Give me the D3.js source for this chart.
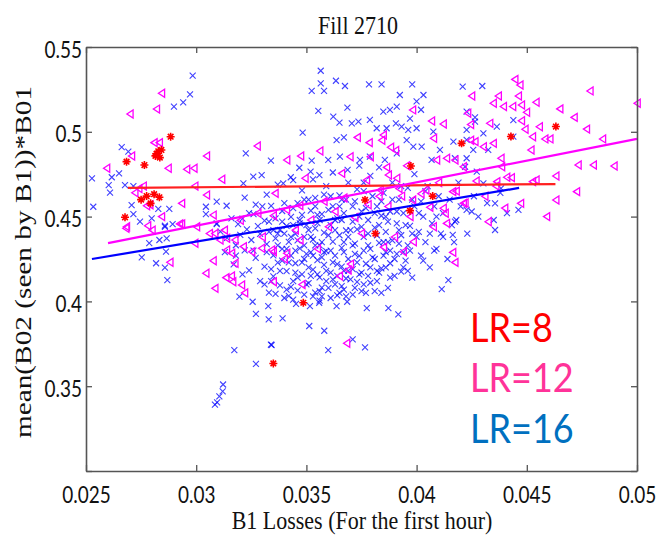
<!DOCTYPE html>
<html>
<head>
<meta charset="utf-8">
<script src="https://cdn.jsdelivr.net/npm/d3@7"></script>
<style>
  html, body { margin: 0; padding: 0; background: #fff; }
  svg { display: block; }
</style>
</head>
<body>
<svg id="chart" width="657" height="536"></svg>
<script>
// Fill 2710 — scatter of B1 losses vs mean(B02)*B01 for three LR settings

const xTicks = [0.025, 0.03, 0.035, 0.04, 0.045, 0.05];
const yTicks = [0.3, 0.35, 0.4, 0.45, 0.5, 0.55];
const yTickLabels = ['', '0.35', '0.4', '0.45', '0.5', '0.55'];

const seriesNames = ['LR=8', 'LR=12', 'LR=16'];
const seriesColors = ['#ff0000', '#ff3399', '#0070c0'];

// LR=8 (red asterisks)
const lr8 = [
  [.02884,.4971],[.02820,.4870],[.02828,.4885],[.02842,.4893],[.02815,.4858],[.02835,.4848],[.02684,.4824],[.02765,.4804],
  [.02775,.4621],[.02809,.4632],[.02833,.4614],[.02793,.4578],[.02750,.4600],[.02677,.4496],
  [.03486,.3992],[.03350,.3634],[.03813,.4400],[.04204,.4932],[.03974,.4798],[.03766,.4598],[.04073,.4621],
  [.03970,.4535],[.04428,.4972],[.04632,.5031]
];

// LR=12 (magenta left triangles)
const lr12 = [
  [.02843,.5227],[.02820,.5134],[.02700,.5105],[.02809,.4936],[.02833,.4936],[.02707,.4857],[.03047,.4857],[.03277,.4916],
  [.02594,.4785],[.02873,.4785],[.02957,.4779],[.02990,.4785],[.03116,.4720],[.02994,.4680],[.02760,.4680],[.02740,.4665],
  [.02722,.4641],[.03047,.4627],[.02934,.4578],[.02775,.4564],[.02790,.4570],[.02843,.4500],[.02684,.4440],[.02780,.4446],
  [.02934,.4456],[.03002,.4440],[.03077,.4509],[.03060,.4400],[.03128,.4420],
  [.02681,.4431],[.02800,.4420],[.02925,.4457],[.02994,.4343],[.03085,.4400],[.02881,.4231],[.03044,.4166],[.03077,.4240],
  [.03085,.4077],[.03135,.4140],[.03160,.4150],[.03166,.4116],[.03176,.4225],[.03206,.4097],[.03108,.4362],[.03138,.4372],
  [.03176,.4362],[.03214,.4323],[.03138,.4303],[.03161,.4284],[.03252,.4293],[.03297,.4313],[.03350,.4293],
  [.03683,.3753],[.04164,.4289],[.04174,.4230],[.03689,.4185],[.03471,.4362],[.03940,.4293],[.03985,.4352],[.04136,.4460],
  [.04076,.4440],[.03342,.4303],[.03350,.4116],[.03411,.4284],
  [.03982,.5129],[.04068,.5064],[.04121,.5046],[.04245,.5043],[.03849,.4981],[.03731,.4967],[.03785,.4936],[.03882,.4909],
  [.03842,.4950],[.03905,.4890],[.04077,.4962],[.04245,.4950],[.03411,.4834],[.03474,.4857],[.03561,.4887],[.03698,.4853],
  [.03790,.4853],[.03955,.4800],[.03864,.4790],[.03872,.4745],[.03910,.4726],[.04091,.4834],[.04136,.4844],[.04174,.4834],
  [.04212,.4794],[.03494,.4726],[.03660,.4755],[.03773,.4716],[.03835,.4657],[.03932,.4621],[.03982,.4598],[.04042,.4657],
  [.04164,.4647],[.04121,.4549],[.04212,.4578],[.03358,.4637],
  [.0320,.4478],[.0328,.4520],[.0335,.4505],[.0341,.4540],[.0347,.4565],[.0352,.4480],[.0358,.4590],[.0363,.4530],
  [.0367,.4610],[.0372,.4495],[.0378,.4570],[.0383,.4620],[.0387,.4560],[.0392,.4665],[.0397,.4500],[.0402,.4635],
  [.0406,.4555],[.0410,.4700],[.0413,.4520],[.0418,.4650],[.0422,.4580],[.0427,.4710],[.0431,.4620],[.0436,.4680],
  [.0440,.4550],[.0443,.4730],[.0330,.4380],[.0345,.4420],[.0360,.4440],[.0375,.4400],[.0390,.4380],[.0340,.4250],
  [.0355,.4310],[.0370,.4220],[.0385,.4320],[.0348,.4100],[.0365,.4150],[.0322,.4050],
  [.04446,.5309],[.04469,.5276],[.04250,.5211],[.04371,.5211],[.04462,.5211],[.04348,.5168],[.04394,.5149],[.04436,.5149],
  [.04476,.5158],[.04542,.5174],[.04787,.5241],[.05001,.5168],[.04499,.5115],[.04650,.5135],[.04715,.5085],[.04771,.5016],
  [.04476,.5065],[.04492,.5015],[.04557,.5030],[.04526,.4971],[.04582,.4958],[.04605,.4958],[.04844,.4958],[.04519,.4893],
  [.04383,.4844],[.04386,.4794],[.04733,.4804],[.04802,.4804],[.04896,.4798],[.04632,.4739],[.04726,.4647],[.04632,.4598],
  [.04590,.4500],[.04472,.4578],[.04325,.4470],[.04409,.4732],[.04542,.4716],[.04526,.4706],[.04364,.4706],[.04232,.5109],
  [.04332,.5050],[.04348,.4932],[.04265,.4942],[.04303,.4912]
];

// LR=16 (blue crosses)
const lr16 = [
  [.02984,.5331],[.02972,.5221],[.02941,.5174],[.02899,.5148],[.02662,.4909],[.02692,.4883],[.03225,.4873],[.03339,.4830],
  [.02527,.4726],[.02617,.4732],[.02650,.4755],[.02603,.4686],[.02609,.4641],[.02677,.4686],[.02715,.4680],[.02533,.4558],
  [.02707,.4568],[.02715,.4515],[.02828,.4545],[.02878,.4545],[.02798,.4490],[.02745,.4470],[.02858,.4446],[.02893,.4456],
  [.03044,.4558],[.03044,.4515],[.03093,.4588],[.03138,.4564],[.03093,.4460],[.03259,.4736],[.03297,.4745],[.03214,.4696],
  [.02753,.4260],[.02818,.4225],[.02858,.4199],[.02869,.4126],[.02787,.4343],[.02833,.4362],[.02866,.4372],[.02863,.4293],
  [.02858,.4440],[.03093,.4456],[.03196,.4028],[.03256,.3998],[.03271,.3926],[.03329,.3894],[.03339,.3745],[.03173,.3713],
  [.03271,.3631],[.03122,.3510],[.03120,.3470],[.03105,.3440],[.03095,.3405],[.03085,.3392],[.03327,.3972],
  [.03392,.3900],[.03513,.3855],[.03581,.3827],[.03599,.3713],[.03710,.3776],[.03766,.3729],[.03342,.3743],[.03774,.3960],
  [.03872,.3960],[.03917,.3924],[.04114,.4073],[.04144,.4126],[.03685,.3998],[.03637,.3972],[.03558,.3992],[.03516,.3972],
  [.03453,.3985],
  [.03565,.5360],[.03565,.5286],[.03524,.5241],[.03580,.5241],[.03634,.5301],[.03675,.5270],[.03784,.5280],[.03841,.5280],
  [.03980,.5280],[.04209,.5266],[.03554,.5123],[.03686,.5142],[.03622,.5089],[.03650,.5054],[.03483,.4995],[.03849,.5119],
  [.03879,.5129],[.03910,.5148],[.03924,.5217],[.04031,.5217],[.04000,.5180],[.04020,.5130],[.03970,.5078],
  [.03706,.5050],[.03736,.5060],[.03788,.5070],[.03819,.5021],[.03864,.5021],[.03906,.5050],[.03932,.5030],[.03962,.5011],
  [.04000,.5021],[.04076,.5001],[.03637,.4951],[.03670,.4967],[.03652,.4853],[.03687,.4775],[.03743,.4834],[.03788,.4853],
  [.03856,.4834],[.03910,.4873],[.03955,.4951],[.03985,.4912],[.04023,.4912],[.04106,.4893],[.04068,.4834],[.03468,.4788],
  [.03524,.4830],[.03599,.4834],[.03519,.4765],[.03559,.4745],[.03429,.4732],[.03395,.4696],
  [.04298,.5270],[.04227,.5119],[.04265,.5085],[.04265,.5060],[.04439,.5069],[.04303,.4991],[.04364,.5030],[.04227,.5011],
  [.04167,.4942],[.04227,.4952],[.04257,.4893],[.04174,.4844],[.04325,.4893],[.04439,.4971],[.04383,.4667],[.04356,.4578],
  [.04462,.4539],[.04164,.4392],[.04356,.4421],[.04174,.4470],[.04227,.4539],[.04250,.4530],[.04303,.4696],[.04273,.4765],
  [.04220,.4794],[.04227,.4844],
  [.0311,.4412],[.0314,.4375],[.0316,.4490],[.0318,.4331],[.0319,.4455],[.0313,.4290],[.0317,.4218],[.0320,.4392],
  [.0321,.4488],[.0322,.4301],[.0323,.4425],[.0324,.4183],[.0325,.4362],[.0326,.4515],[.0327,.4257],[.0328,.4444],
  [.0329,.4120],[.0329,.4398],[.0322,.4612],[.0327,.4571],
  [.0331,.4476],[.0331,.4205],[.0332,.4338],[.0333,.4052],[.0333,.4410],[.0334,.4563],[.0335,.4271],[.0335,.4147],
  [.0336,.4490],[.0336,.4372],[.0337,.4228],[.0338,.4095],[.0338,.4421],[.0339,.4310],[.0339,.4533],[.0332,.4630],[.0337,.4688],
  [.0341,.4445],[.0341,.4178],[.0342,.4351],[.0342,.4032],[.0343,.4270],[.0343,.4498],[.0344,.4120],[.0345,.4398],
  [.0345,.4225],[.0346,.4580],[.0346,.4065],[.0347,.4312],[.0347,.4460],[.0348,.4160],[.0348,.4655],[.0349,.4380],
  [.0349,.4250],[.0344,.4715],[.0340,.4020],
  [.0351,.4421],[.0351,.4108],[.0352,.4290],[.0352,.4535],[.0353,.4188],[.0353,.4365],[.0354,.4052],[.0354,.4610],
  [.0355,.4462],[.0355,.4243],[.0356,.4142],[.0356,.4330],[.0357,.4515],[.0357,.4081],[.0358,.4405],[.0358,.4215],
  [.0359,.4680],[.0359,.4296],[.0353,.4720],[.0356,.4005],
  [.0361,.4450],[.0361,.4170],[.0362,.4352],[.0362,.4560],[.0363,.4100],[.0363,.4270],[.0364,.4490],[.0364,.4035],
  [.0365,.4390],[.0365,.4625],[.0366,.4205],[.0366,.4315],[.0367,.4520],[.0368,.4135],[.0368,.4418],[.0369,.4250],
  [.0369,.4700],[.0362,.4760],[.0367,.4070],
  [.0371,.4470],[.0371,.4190],[.0372,.4340],[.0372,.4590],[.0373,.4115],[.0373,.4425],[.0374,.4268],[.0375,.4530],
  [.0375,.4060],[.0376,.4380],[.0376,.4650],[.0377,.4222],[.0378,.4480],[.0378,.4150],[.0379,.4310],[.0379,.4740],[.0374,.4800],
  [.0381,.4435],[.0381,.4250],[.0382,.4560],[.0382,.4120],[.0383,.4345],[.0384,.4505],[.0384,.4195],[.0385,.4640],
  [.0386,.4290],[.0386,.4410],[.0387,.4080],[.0388,.4530],[.0388,.4225],[.0389,.4700],[.0389,.4360],[.0383,.4790],
  [.0391,.4460],[.0391,.4280],[.0392,.4600],[.0393,.4175],[.0393,.4390],[.0394,.4520],[.0395,.4240],[.0396,.4670],
  [.0396,.4330],[.0397,.4445],[.0398,.4140],[.0399,.4560],[.0399,.4750],
  [.0401,.4410],[.0402,.4590],[.0402,.4270],[.0403,.4500],[.0404,.4350],[.0405,.4680],[.0406,.4200],[.0407,.4460],
  [.0408,.4560],[.0409,.4310],[.0410,.4620],[.0411,.4400],[.0412,.4520],[.0414,.4250],[.0415,.4600],[.0417,.4350],
  [.0418,.4480],[.0419,.4700],
  [.0318,.4270],[.0321,.4160],[.0324,.4520],[.0326,.4300],[.0330,.4560],[.0331,.4100],[.0333,.4470],[.0334,.4190],
  [.0336,.4045],[.0337,.4400],[.0339,.4240],[.0340,.4580],[.0341,.4310],[.0343,.4085],[.0344,.4450],[.0345,.4170],
  [.0346,.4360],[.0348,.4510],[.0349,.4040],[.0350,.4280],[.0351,.4600],[.0352,.4150],[.0354,.4330],[.0355,.4510],
  [.0356,.4060],[.0357,.4260],[.0358,.4630],[.0359,.4120],[.0360,.4390],[.0361,.4020],[.0362,.4230],[.0363,.4480],
  [.0364,.4150],[.0365,.4560],[.0366,.4090],[.0367,.4350],[.0368,.4600],[.0369,.4180],[.0370,.4420],[.0371,.4040],
  [.0372,.4280],[.0373,.4660],[.0374,.4160],[.0375,.4440],[.0376,.4100],[.0377,.4550],[.0378,.4330],[.0379,.4200],
  [.0380,.4620],[.0381,.4060],[.0382,.4390],[.0383,.4170],[.0384,.4590],[.0385,.4270],[.0386,.4500],[.0387,.4350],
  [.0388,.4140],[.0389,.4600],[.0390,.4250],[.0391,.4530],[.0392,.4340],[.0393,.4680],[.0394,.4200],[.0395,.4450],
  [.0397,.4300],[.0398,.4600],[.0400,.4380],[.0401,.4520],[.0403,.4240],[.0404,.4650],[.0406,.4400],[.0408,.4300],
  [.0409,.4500],[.0412,.4380],[.0416,.4450],[.0420,.4560],[.0423,.4400],[.0426,.4620],[.0428,.4500],[.0432,.4580],
  [.0435,.4480],[.0438,.4640],[.0441,.4520],
  [.0332,.4290],[.0334,.4120],[.0335,.4420],[.0337,.4330],[.0338,.4180],[.0340,.4400],[.0341,.4070],[.0342,.4230],
  [.0343,.4380],[.0344,.4010],[.0345,.4300],[.0346,.4140],[.0347,.4480],[.0348,.4230],[.0349,.4330],[.0350,.4100],
  [.0350,.4450],[.0351,.4200],[.0352,.4380],[.0353,.4030],[.0353,.4270],[.0354,.4430],[.0355,.4160],[.0356,.4480],
  [.0357,.4350],[.0357,.4030],[.0358,.4290],[.0359,.4180],[.0360,.4540],[.0360,.4080],[.0361,.4300],[.0362,.4130],
  [.0363,.4420],[.0364,.4220],[.0365,.4050],[.0366,.4480],[.0367,.4180],[.0367,.4290],[.0368,.4030],[.0369,.4380],
  [.0370,.4130],[.0371,.4330],[.0372,.4080],[.0373,.4230],[.0374,.4500],[.0375,.4170],[.0376,.4300],[.0377,.4050],
  [.0378,.4400],[.0379,.4110],[.0380,.4260],[.0381,.4520],[.0382,.4180],[.0383,.4450],[.0384,.4050],[.0385,.4350],
  [.0386,.4200],[.0387,.4470],[.0388,.4300],[.0390,.4150],[.0392,.4420],[.0394,.4290],[.0396,.4180],[.0398,.4400],
  [.0339,.4470],[.0344,.4550],[.0349,.4600],[.0354,.4560],[.0361,.4620],[.0366,.4600],[.0371,.4560],[.0376,.4700]
];

// least-squares fit lines, endpoints
const fit8 = [[.0269, .4669], [.0463, .4692]];
const fit12 = [[.0260, .4344], [.0500, .4958]];
const fit16 = [[.02527, .4250], [.04465, .4669]];

const box = { left: 86, right: 637, top: 47, bottom: 471 };

const x = d3.scaleLinear().domain([0.025, 0.05]).range([box.left, box.right]);
const y = d3.scaleLinear().domain([0.3, 0.55]).range([box.bottom, box.top]);

const svg = d3.select('#chart');
svg.append('rect').attr('width', 657).attr('height', 536).attr('fill', '#fff');

const plot = svg.append('g');

// markers
const crossPath = 'M-3,-3L3,3M-3,3L3,-3';
const triPath = 'M-3.2,0L3,-4L3,4Z';
const starPath = 'M-4,0H4M0,-4V4M-2.8,-2.8L2.8,2.8M-2.8,2.8L2.8,-2.8';

plot.append('g').selectAll('path')
  .data(lr16).join('path')
  .attr('d', crossPath)
  .attr('transform', d => `translate(${x(d[0])},${y(d[1])})`)
  .attr('fill', 'none').attr('stroke', '#0000ff').attr('stroke-width', 1.1).attr('opacity', 0.75);

plot.append('g').selectAll('path')
  .data(lr12).join('path')
  .attr('d', triPath)
  .attr('transform', d => `translate(${x(d[0])},${y(d[1])})`)
  .attr('fill', 'none').attr('stroke', '#ff00ff').attr('stroke-width', 1.3);

plot.append('g').selectAll('path')
  .data(lr8).join('path')
  .attr('d', starPath)
  .attr('transform', d => `translate(${x(d[0])},${y(d[1])})`)
  .attr('fill', 'none').attr('stroke', '#ff0000').attr('stroke-width', 1.6);

const line = d3.line().x(d => x(d[0])).y(d => y(d[1]));
plot.append('path').attr('d', line(fit8)).attr('stroke', '#ff2020').attr('stroke-width', 2.2).attr('fill', 'none');
plot.append('path').attr('d', line(fit12)).attr('stroke', '#ff00ff').attr('stroke-width', 2.2).attr('fill', 'none');
plot.append('path').attr('d', line(fit16)).attr('stroke', '#0000ff').attr('stroke-width', 2.2).attr('fill', 'none');

// axes (box with inward ticks)
const fmtX = d => String(+d.toFixed(3));
function styleAxis(g) {
  g.attr('color', '#555').attr('font-family', 'Lato, sans-serif').attr('font-size', 19);
  g.select('.domain').attr('stroke-width', 1.6);
  g.selectAll('.tick line').attr('stroke-width', 1.3);
  g.selectAll('text').attr('fill', '#111');
}

svg.append('g').attr('transform', `translate(0,${box.bottom})`)
  .call(d3.axisBottom(x).tickValues(xTicks).tickSizeInner(-6).tickSizeOuter(0).tickFormat(fmtX))
  .call(styleAxis)
  .call(g => g.selectAll('text').attr('y', 0).attr('dy', null).attr('transform', 'translate(0,32) scale(1,1.2)'));

svg.append('g').attr('transform', `translate(0,${box.top})`)
  .call(d3.axisTop(x).tickValues(xTicks).tickSizeInner(-6).tickSizeOuter(0).tickFormat(''))
  .call(styleAxis);

svg.append('g').attr('transform', `translate(${box.left},0)`)
  .call(d3.axisLeft(y).tickValues(yTicks).tickSizeInner(-6).tickSizeOuter(0).tickFormat((d, i) => yTickLabels[i]))
  .call(styleAxis)
  .call(g => g.selectAll('text').attr('x', 0).attr('dy', null).attr('transform', 'translate(-4,10) scale(1,1.2)'));

svg.append('g').attr('transform', `translate(${box.right},0)`)
  .call(d3.axisRight(y).tickValues(yTicks).tickSizeInner(-6).tickSizeOuter(0).tickFormat(''))
  .call(styleAxis);

// titles
svg.append('text')
  .attr('transform', 'translate(358,33.5) scale(1,1.15)')
  .attr('text-anchor', 'middle').attr('font-family', '"Liberation Serif", serif').attr('font-size', 22)
  .attr('fill', '#111').text('Fill 2710');

svg.append('text')
  .attr('transform', 'translate(362,529) scale(1,1.15)')
  .attr('text-anchor', 'middle').attr('font-family', '"Liberation Serif", serif').attr('font-size', 22)
  .attr('fill', '#111').text('B1 Losses (For the first hour)');

svg.append('text')
  .attr('transform', 'translate(31,262) rotate(-90) scale(1.22,1)')
  .attr('text-anchor', 'middle').attr('font-family', '"Liberation Serif", serif').attr('font-size', 24)
  .attr('fill', '#111').text('mean(B02 (seen by B1))*B01');

// legend labels placed as overlay text
const legendY = [342, 392, 443];
svg.append('g').selectAll('text')
  .data(seriesNames).join('text')
  .attr('transform', (d, i) => `translate(470,${legendY[i]}) scale(1,1.1)`)
  .attr('font-family', 'Lato, sans-serif').attr('font-size', 36)
  .attr('fill', (d, i) => seriesColors[i])
  .text(d => d);
</script>
</body>
</html>
